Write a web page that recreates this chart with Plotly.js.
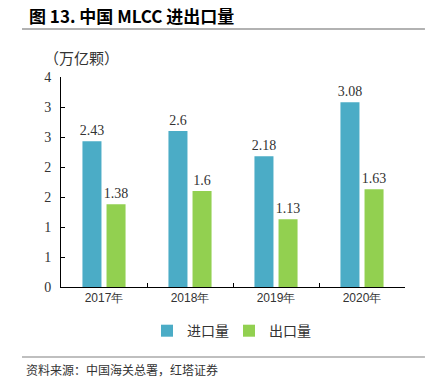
<!DOCTYPE html>
<html><head><meta charset="utf-8">
<script src="https://cdn.plot.ly/plotly-3.0.1.min.js"></script>
<style>html,body{margin:0;padding:0;background:#fff;}#chart{width:438px;height:389px;}</style>
</head><body><div id="chart"></div>
<script>
const categories = ['2017年', '2018年', '2019年', '2020年'];
const importValues = [2.43, 2.6, 2.18, 3.08];
const exportValues = [1.38, 1.6, 1.13, 1.63];
const yTickVals = [0, 0.5, 1, 1.5, 2, 2.5, 3, 3.5];
const yTickText = ['0', '1', '1', '2', '2', '3', '3', '4'];

const serif = 'Liberation Serif, Times New Roman, serif';
const cjk = 'Noto Sans CJK SC, sans-serif';

const traces = [
  {type: 'bar', name: '进口量', x: categories, y: importValues,
   marker: {color: '#4BACC6'}, text: importValues.map(String), textposition: 'outside',
   constraintext: 'none',
   textfont: {family: serif, size: 14, color: '#333'}, cliponaxis: false, hoverinfo: 'none'},
  {type: 'bar', name: '出口量', x: categories, y: exportValues,
   marker: {color: '#92D050'}, text: exportValues.map(String), textposition: 'outside',
   constraintext: 'none',
   textfont: {family: serif, size: 14, color: '#333'}, cliponaxis: false, hoverinfo: 'none'}
];

const layout = {
  width: 438, height: 389,
  margin: {l: 61, r: 33, t: 77, b: 102},
  paper_bgcolor: '#fff', plot_bgcolor: '#fff',
  barmode: 'group', bargap: 0.44, bargroupgap: 0.21,
  showlegend: true,
  legend: {orientation: 'h', x: 0.25, xanchor: 'left', y: -0.21, yanchor: 'middle',
    font: {family: cjk, size: 14, color: '#333'}, itemwidth: 30, entrywidth: 37, tracegroupgap: 0},
  xaxis: {type: 'category', showline: true, linecolor: '#000', linewidth: 1,
    ticks: 'inside', ticklen: 4, tickcolor: '#000', tickson: 'boundaries',
    tickfont: {family: 'Liberation Sans, Arial, sans-serif', size: 12, color: '#333'},
    showgrid: false, zeroline: false, fixedrange: true},
  yaxis: {range: [0, 3.5], tickvals: yTickVals, ticktext: yTickText,
    showline: true, linecolor: '#000', linewidth: 1, ticks: 'inside', ticklen: 4, tickcolor: '#000',
    tickfont: {family: serif, size: 14, color: '#333'}, ticklabelstandoff: 6,
    showgrid: false, zeroline: false, fixedrange: true},
  annotations: [
    {text: '<b>图 13. 中国 MLCC 进出口量</b>', xref: 'paper', yref: 'paper', x: -0.0988, y: 1.295,
     xanchor: 'left', yanchor: 'middle', showarrow: false, font: {family: cjk, size: 17, color: '#000'}},
    {text: '（万亿颗）', xref: 'paper', yref: 'paper', x: -0.055, y: 1.0905,
     xanchor: 'left', yanchor: 'middle', showarrow: false, font: {family: cjk, size: 15, color: '#333'}},
    {text: '资料来源：中国海关总署，红塔证券', xref: 'paper', yref: 'paper', x: -0.1076, y: -0.395,
     xanchor: 'left', yanchor: 'middle', showarrow: false, font: {family: cjk, size: 12, color: '#333'}}
  ],
  shapes: [
    {type: 'line', xref: 'paper', yref: 'paper', x0: -0.1134, x1: 1.058, y0: 1.2286, y1: 1.2286,
     line: {color: '#999', width: 1.5}},
    {type: 'line', xref: 'paper', yref: 'paper', x0: -0.1134, x1: 1.058, y0: -0.333, y1: -0.333,
     line: {color: '#aaa', width: 1.5}}
  ]
};

Plotly.newPlot('chart', traces, layout, {displayModeBar: false, staticPlot: true});
</script></body></html>
